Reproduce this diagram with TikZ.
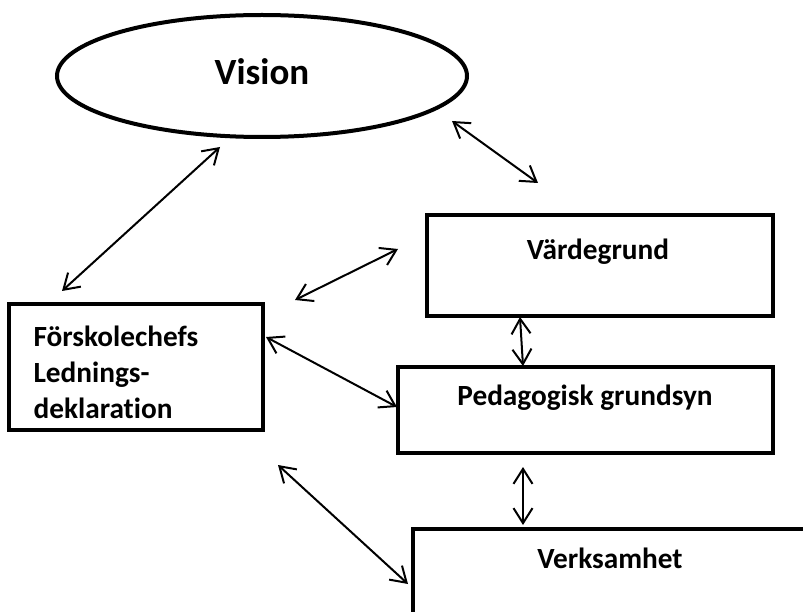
\documentclass[tikz,border=0pt]{standalone}
\usepackage{fontspec}
\setmainfont{Carlito}[Ligatures=NoCommon]
\usetikzlibrary{shapes.geometric, arrows.meta}

\tikzset{
    box/.style={draw, line width=4pt, rectangle, inner sep=0pt},
    lbl/.style={font=\fontsize{29.3}{36}\selectfont\bfseries},
    link/.style={line width=2pt, {Straight Barb[length=15pt,width=19pt]}-{Straight Barb[length=15pt,width=19pt]}}
}

\begin{document}
\begin{tikzpicture}[x=1pt, y=-1pt]
        \clip (0, 0) rectangle (803, 612);
        % ellipse and boxes
        \node [draw, ellipse, line width=4pt, minimum width=410pt, minimum height=122pt] (vis) at (262, 76) {};
        \node [lbl, font=\fontsize{37}{40}\selectfont\bfseries] (vistxt) at (262, 72) {Vision};
        \node [box, minimum width=346pt, minimum height=101pt] (vard) at (600, 265.5) {};
        \node [lbl] (vardtxt) at (598, 252) {Värdegrund};
        \node [box, minimum width=375pt, minimum height=86pt] (ped) at (585.5, 410) {};
        \node [lbl] (pedtxt) at (585, 398) {Pedagogisk grundsyn};
        \node [box, minimum width=254pt, minimum height=126pt] (fsk) at (136, 367) {};
        \node [lbl, align=left, anchor=west] (fsktxt) at (30, 372) {Förskolechefs\\Lednings-\\deklaration};
        \node [box, anchor=north west, minimum width=420pt, minimum height=120pt] (verk) at (411, 527) {};
        \node [lbl] (verktxt) at (610, 558) {Verksamhet};
        % free ends of the arrows
        \coordinate (v1) at (220, 147);
        \coordinate (f1) at (62, 291);
        \coordinate (v2) at (452, 121);
        \coordinate (w2) at (538, 183);
        \coordinate (f3) at (295, 300);
        \coordinate (w3) at (398, 249);
        \coordinate (f4) at (266, 337);
        \coordinate (p4) at (397, 407);
        \coordinate (w5) at (520, 317);
        \coordinate (p5) at (523, 366);
        \coordinate (p6) at (523, 467);
        \coordinate (k6) at (523, 525);
        \coordinate (f7) at (278, 465);
        \coordinate (k7) at (408, 584);
        \draw [link] (f1)--(v1);
        \draw [link] (v2)--(w2);
        \draw [link] (f3)--(w3);
        \draw [link] (f4)--(p4);
        \draw [link] (w5)--(p5);
        \draw [link] (p6)--(k6);
        \draw [link] (f7)--(k7);
    \end{tikzpicture}
\end{document}
